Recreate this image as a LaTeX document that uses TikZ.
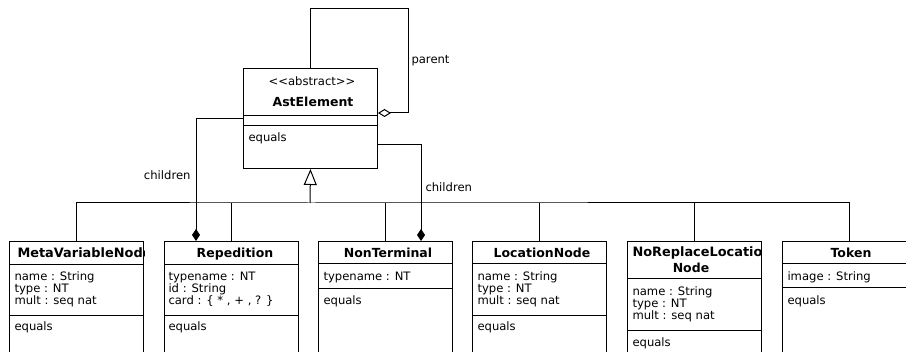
\documentclass[tikz,border=0pt]{standalone}
\usepackage{fontspec}
\setmainfont{DejaVu Sans}
\usetikzlibrary{arrows.meta,calc}

\newcommand\bodyfont{\fontsize{11.6}{12}\selectfont}
\newcommand\titlefont{\fontsize{12.5}{16}\selectfont\bfseries}
\newcommand\widetitlefont{\fontsize{12.9}{16}\selectfont\bfseries}
% horizontal compartment divider across a class box at height #2
\newcommand\sepline[2]{\draw (#1.west |- 0,#2) -- (#1.east |- 0,#2);}

\begin{document}
\begin{tikzpicture}[x=1pt,y=-1pt,line width=1pt,
  umlbox/.style={draw, fill=white, rectangle, anchor=north west,
    minimum width=134pt, minimum height=#1, inner sep=0pt},
  ttl/.style={font=\titlefont, inner sep=0pt, anchor=base},
  widettl/.style={font=\widetitlefont, inner sep=0pt, anchor=base west},
  txt/.style={font=\bodyfont, inner sep=0pt, anchor=base west, align=left},
  comp/.style={-{Diamond[length=12pt,width=8pt]}},
  aggr/.style={-{Diamond[open,length=13pt,width=8pt]}},
  gen/.style={-{Triangle[open,length=16pt,width=13pt]}}]

\useasboundingbox (0,0) rectangle (906,352);
\clip (0,0) rectangle (906,352);

% abstract base class
\node[umlbox=100pt] (ast) at (243,68) {};
\sepline{ast}{116}
\sepline{ast}{126}
\node[txt, anchor=base] (astSt) at (312,86) {<\kern0pt<abstract>\kern0pt>};
\node[ttl] (astNm) at (313,107) {AstElement};
\node[txt] (astOp) at (248,142) {equals};

% MetaVariableNode  (multi-line texts are anchored at their last baseline)
\node[umlbox=160pt] (meta) at (9,241) {};
\sepline{meta}{265}
\sepline{meta}{316}
\begin{scope}
  \clip (meta.north west) rectangle (meta.south east);
  \node[widettl] (metaNm) at (17,258) {MetaVariableNode};
\end{scope}
\node[txt] (metaAt) at (14,305) {name : String\\type : NT\\mult : seq nat};
\node[txt] (metaOp) at (14,331) {equals};

% Repedition
\node[umlbox=160pt] (rep) at (164,241) {};
\sepline{rep}{265}
\sepline{rep}{316}
\node[ttl] (repNm) at (235,258) {Repedition};
\node[txt] (repAt) at (168,305) {typename : NT\\id : String\\card : \{ * , + , ? \}};
\node[txt] (repOp) at (168,331) {equals};

% NonTerminal
\node[umlbox=160pt] (nonterm) at (318,241) {};
\sepline{nonterm}{264}
\sepline{nonterm}{289}
\node[ttl] (ntNm) at (388,258) {NonTerminal};
\node[txt] (ntAt) at (323,281) {typename : NT};
\node[txt] (ntOp) at (323,305) {equals};

% LocationNode
\node[umlbox=160pt] (loc) at (472,241) {};
\sepline{loc}{264}
\sepline{loc}{316}
\node[ttl] (locNm) at (542,258) {LocationNode};
\node[txt] (locAt) at (477,305) {name : String\\type : NT\\mult : seq nat};
\node[txt] (locOp) at (477,331) {equals};

% NoReplaceLocationNode
\node[umlbox=160pt] (norep) at (627,241) {};
\sepline{norep}{279}
\sepline{norep}{331}
\begin{scope}
  \clip (norep.north west) rectangle (norep.south east);
  \node[widettl] (nrNmA) at (632,257) {NoReplaceLocation};
\end{scope}
\node[ttl] (nrNmB) at (691,273) {Node};
\node[txt] (nrAt) at (632,320) {name : String\\type : NT\\mult : seq nat};
\node[txt] (nrOp) at (632,347) {equals};

% Token
\node[umlbox=160pt] (token) at (782,241) {};
\sepline{token}{264}
\sepline{token}{288}
\node[ttl] (tokNm) at (851,258) {Token};
\node[txt] (tokAt) at (787,281) {image : String};
\node[txt] (tokOp) at (787,305) {equals};

% generalisation tree
\coordinate (bus) at (310,203);
\draw[gen] (bus) -- (ast.south);
\draw (meta.north) |- (bus) -| (token.north);
\draw (rep.north) -- (rep.north |- bus);
\draw (nonterm.north) -- (nonterm.north |- bus);
\draw (loc.north) -- (loc.north |- bus);
\draw (norep.north) -- (norep.north |- bus);

% compositions
\draw[comp] (ast.west) -| ($(rep.north west)+(32,0)$);
\draw[comp] ($(ast.south east)+(0,-24)$) -| ($(nonterm.north west)+(103,0)$);
\node[txt, anchor=base east] (lblKidsL) at (191,180) {children};
\node[txt] (lblKidsR) at (425,192) {children};

% parent self-aggregation
\draw[aggr] (ast.north) |- ($(ast.north east)+(30,-59)$) |- ($(ast.north east)+(0,45)$);
\node[txt] (lblParent) at (411,64) {parent};

\end{tikzpicture}
\end{document}
